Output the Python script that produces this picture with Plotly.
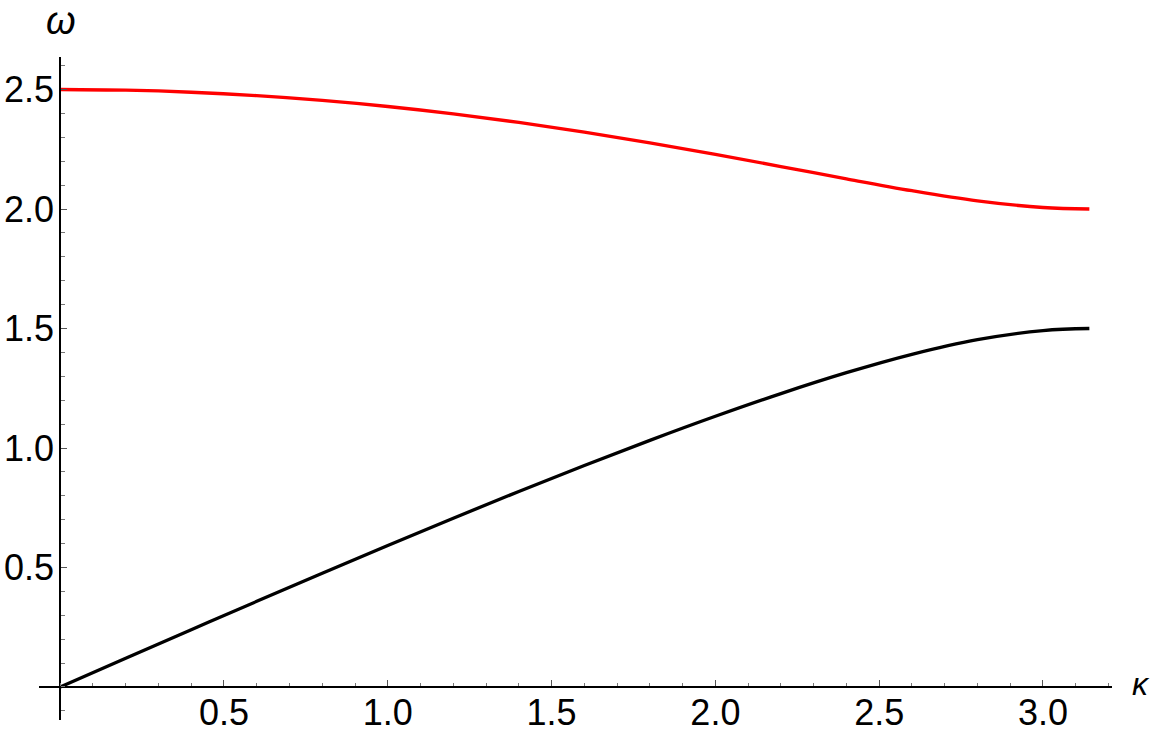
import plotly.graph_objects as go

# wave number kappa and the two dispersion branches omega
kappa = [0.0, 0.2, 0.4, 0.6, 0.8, 1.0, 1.2, 1.4, 1.6, 1.8, 2.0, 2.2, 2.4, 2.6, 2.8, 3.0, 3.14159]
omega_optical = [2.5, 2.4971, 2.4885, 2.4742, 2.4543, 2.4289, 2.3981, 2.3624, 2.3218, 2.2770,
                 2.2287, 2.1778, 2.1261, 2.0766, 2.0341, 2.0063, 2.0]
omega_acoustic = [0.0, 0.1199, 0.2395, 0.3583, 0.4760, 0.5922, 0.7064, 0.8181, 0.9269, 1.0320,
                  1.1327, 1.2277, 1.3151, 1.3920, 1.4534, 1.4915, 1.5]

x_ticks = [0.5, 1.0, 1.5, 2.0, 2.5, 3.0]
x_tick_text = ["0.5", "1.0", "1.5", "2.0", "2.5", "3.0"]
y_ticks = [0.5, 1.0, 1.5, 2.0, 2.5]
y_tick_text = ["0.5", "1.0", "1.5", "2.0", "2.5"]

W, H = 1152, 739
PL, PR, PT, PB = 39, 1112, 57, 720   # plot-area pixel box in the window
L, T, R, B = PL, PT, W - PR, H - PB
x_range = [-0.0647, 3.2107]
y_range = [-0.1381, 2.636]

fig = go.Figure()
fig.add_trace(go.Scatter(x=kappa, y=omega_optical, mode="lines",
                         line=dict(color="#ff0000", width=3.3, shape="spline"), showlegend=False))
fig.add_trace(go.Scatter(x=kappa, y=omega_acoustic, mode="lines",
                         line=dict(color="#000000", width=3.3, shape="spline"), showlegend=False))

font = dict(family="Liberation Sans, Arial, sans-serif", size=36, color="black")
y0_frac = (0 - y_range[0]) / (y_range[1] - y_range[0])
x0_frac = (0 - x_range[0]) / (x_range[1] - x_range[0])
pw, ph = PR - PL, PB - PT

fig.update_layout(
    width=W, height=H,
    margin=dict(l=L, r=R, t=T, b=B, pad=0, autoexpand=False),
    plot_bgcolor="white", paper_bgcolor="white",
    xaxis=dict(range=x_range, anchor="free", position=y0_frac, showgrid=False, zeroline=False,
               automargin=False,
               showline=True, linecolor="black", linewidth=1.8,
               tickmode="array", tickvals=x_ticks, ticktext=x_tick_text,
               ticks="inside", ticklen=6, tickwidth=1, tickcolor="#555555",
               ticklabelstandoff=-6,
               minor=dict(tick0=0, dtick=0.1, ticks="inside", ticklen=3.5, tickwidth=1,
                          tickcolor="#777777", showgrid=False),
               tickfont=font, fixedrange=True),
    yaxis=dict(range=y_range, anchor="free", position=x0_frac, showgrid=False, zeroline=False,
               automargin=False,
               showline=True, linecolor="black", linewidth=1.8,
               tickmode="array", tickvals=y_ticks, ticktext=y_tick_text,
               ticks="inside", ticklen=6, tickwidth=1, tickcolor="#555555",
               ticklabelstandoff=-2,
               minor=dict(tick0=0, dtick=0.1, ticks="inside", ticklen=3.5, tickwidth=1,
                          tickcolor="#777777", showgrid=False),
               tickfont=font, fixedrange=True),
    annotations=[
        dict(text="<i>ω</i>", xref="paper", yref="paper", xanchor="center", yanchor="middle",
             x=(61 - PL) / pw, y=(PB - 21) / ph,
             showarrow=False, font=dict(family="Liberation Sans, Arial, sans-serif", size=38, color="black")),
        dict(text="<i>κ</i>", xref="paper", yref="paper", xanchor="center", yanchor="middle",
             x=(1141 - PL) / pw, y=(PB - 684) / ph,
             showarrow=False, font=dict(family="Liberation Sans, Arial, sans-serif", size=32, color="black")),
    ],
)

fig.write_html("out.html", config={"displayModeBar": False},
               post_script="document.body.style.margin='0px';document.body.style.overflow='hidden';")
